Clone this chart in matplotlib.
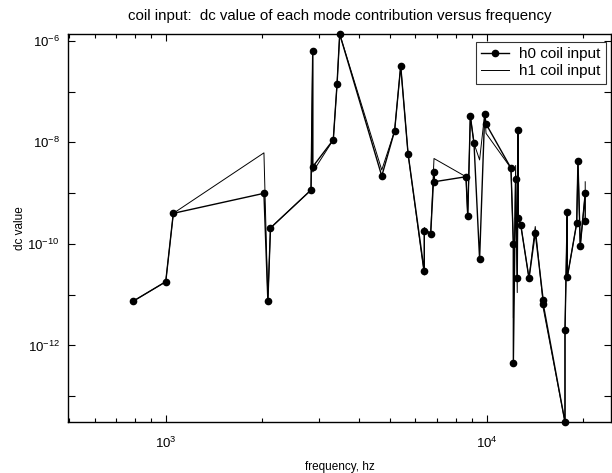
import matplotlib
matplotlib.use("Agg")
import matplotlib.pyplot as plt
from matplotlib.ticker import FixedLocator, FuncFormatter, LogLocator, NullFormatter
import numpy as np

plt.rcParams['font.family'] = ['Liberation Sans', 'DejaVu Sans']
plt.rcParams['mathtext.fontset'] = 'custom'
plt.rcParams['mathtext.rm'] = 'Liberation Sans'

title = "coil input:  dc value of each mode contribution versus frequency"
xlabel = "frequency, hz"
ylabel = "dc value"
legend_labels = ["h0 coil input", "h1 coil input"]

freq = [793, 1000, 1056, 2023, 2081, 2120, 2836, 2871, 2871, 3327, 3418, 3484,
        4711, 5165, 5397, 5690, 6392, 6392, 6691, 6853, 6853, 8621, 8730, 8894,
        9131, 9505, 9858, 9955, 11904, 12110, 12110, 12310, 12453, 12530, 12530,
        12766, 13549, 14170, 15000, 15000, 17540, 17540, 17830, 17830, 19076,
        19250, 19570, 20280, 20280]

h0 = [7.5e-12, 1.8e-11, 4.0e-10, 9.9e-10, 7.5e-12, 2.06e-10, 1.15e-9, 6.3e-7,
      3.3e-9, 1.12e-8, 1.39e-7, 1.35e-6, 2.17e-9, 1.67e-8, 3.2e-7, 5.9e-9,
      2.88e-11, 1.77e-10, 1.57e-10, 2.6e-9, 1.67e-9, 2.1e-9, 3.5e-10, 3.3e-8,
      9.5e-9, 5.0e-11, 3.6e-8, 2.3e-8, 3.1e-9, 1.0e-10, 4.5e-13, 1.9e-9,
      2.1e-11, 1.75e-8, 3.3e-10, 2.4e-10, 2.1e-11, 1.66e-10, 7.9e-12, 6.6e-12,
      3.1e-14, 2.0e-12, 4.3e-10, 2.2e-11, 2.55e-10, 4.3e-9, 9.1e-11, 9.9e-10,
      2.86e-10]

h1 = [7.5e-12, 1.8e-11, 4.0e-10, 6.2e-9, 7.5e-12, 2.06e-10, 1.15e-9, 6.3e-7,
      2.6e-9, 1.12e-8, 1.39e-7, 1.35e-6, 2.85e-9, 1.67e-8, 3.2e-7, 5.9e-9,
      2.45e-11, 2.1e-10, 1.57e-10, 4.8e-9, 4.8e-9, 2.1e-9, 3.5e-10, 3.3e-8,
      9.5e-9, 4.5e-9, 3.6e-8, 1.5e-8, 3.1e-9, 1.0e-10, 3.5e-12, 3.5e-9,
      1.1e-11, 1.75e-8, 3.3e-10, 2.4e-10, 2.1e-11, 2.2e-10, 6.5e-12, 5.5e-12,
      3.1e-14, 2.0e-12, 4.3e-10, 2.2e-11, 2.55e-10, 4.3e-9, 9.1e-11, 9.9e-10,
      1.67e-9]

xlim = (496, 24400)
ylim = (10 ** -13.506, 10 ** -5.868)

fig = plt.figure(figsize=(6.12, 4.73), dpi=100)
ax = fig.add_axes([68 / 612, (473 - 422) / 473, (611 - 68) / 612, (422 - 34) / 473])

ax.plot(freq, h0, color='black', lw=1.0, marker='o', markersize=4.5,
        markerfacecolor='black', markeredgecolor='black', clip_on=False,
        label=legend_labels[0], zorder=3)
ax.plot(freq, h1, color='black', lw=0.7, clip_on=False,
        label=legend_labels[1], zorder=2)

ax.set_xscale('log')
ax.set_yscale('log')
ax.set_xlim(*xlim)
ax.set_ylim(*ylim)

ax.xaxis.set_major_locator(LogLocator(base=10, numticks=10))
ax.xaxis.set_minor_locator(LogLocator(base=10, subs=np.arange(2, 10), numticks=20))
ax.xaxis.set_minor_formatter(NullFormatter())

ydec = list(range(-13, -5))
ax.yaxis.set_major_locator(FixedLocator([10.0 ** e for e in ydec]))
ax.yaxis.set_minor_locator(FixedLocator([]))

def yfmt(v, pos):
    e = int(round(np.log10(v)))
    if e % 2 == 0:
        return r'$\mathdefault{10^{%d}}$' % e
    return ''

ax.yaxis.set_major_formatter(FuncFormatter(yfmt))

ax.tick_params(which='both', direction='in', top=True, right=True, labelsize=9.5,
               width=0.8, colors='black')
ax.tick_params(which='major', length=5)
ax.tick_params(which='minor', length=3)
ax.tick_params(axis='x', pad=10)
ax.tick_params(axis='y', pad=6)

for s in ax.spines.values():
    s.set_linewidth(1.0)
    s.set_color('black')

ax.set_title(title, fontsize=10.8, pad=10)
ax.set_xlabel(xlabel, fontsize=8.5, labelpad=7)
ax.set_ylabel(ylabel, fontsize=8.5, labelpad=1)

leg = ax.legend(loc='upper right', fontsize=11, frameon=True, fancybox=False,
                edgecolor='black', bbox_to_anchor=(1 - 5 / 543, 1 - 8 / 388),
                borderaxespad=0.0, handlelength=1.8,
                borderpad=0.35, labelspacing=0.2, handletextpad=0.7)
leg.get_frame().set_linewidth(0.8)

fig.savefig('out.png', dpi=100)
